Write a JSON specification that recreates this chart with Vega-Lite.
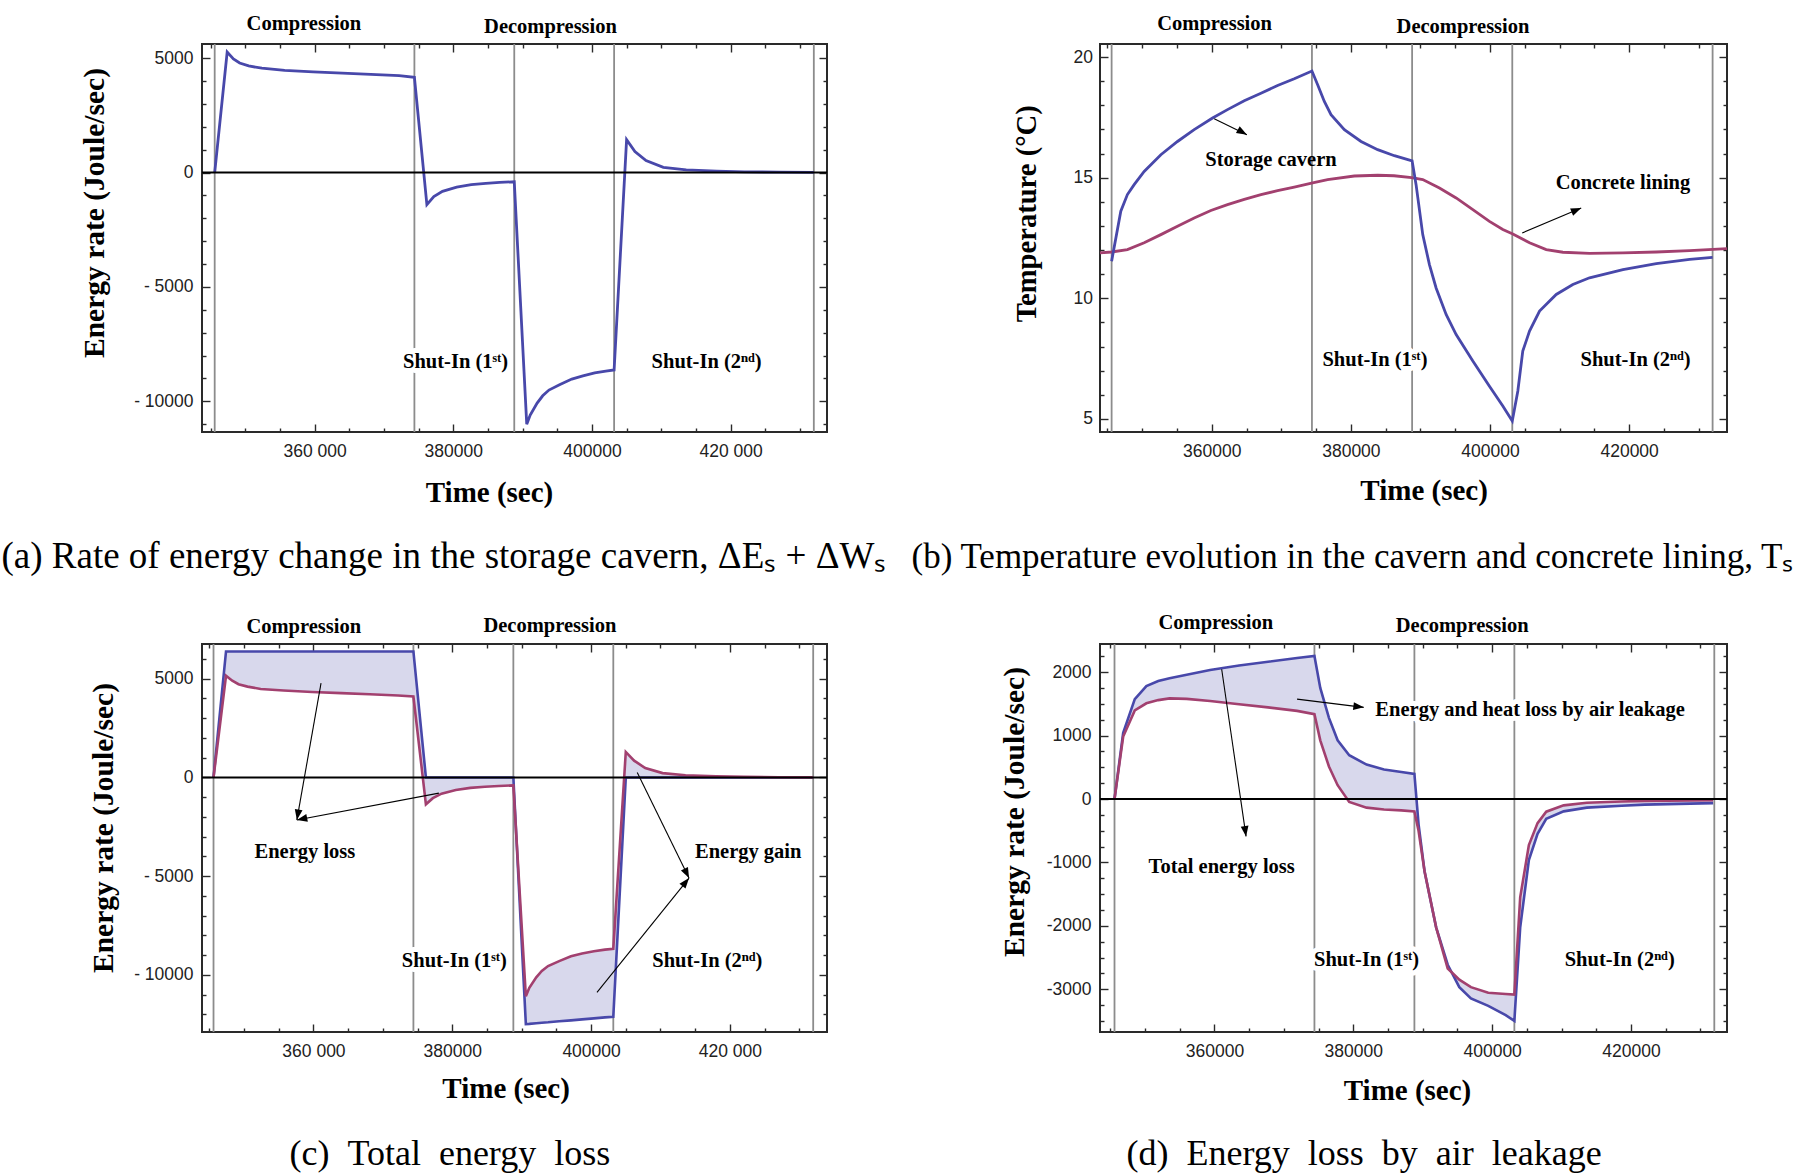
{
  "$schema": "https://vega.github.io/schema/vega-lite/v6.json",
  "background": "white",
  "autosize": {"type": "pad"},
  "padding": {"left": 0, "top": 12, "right": 0, "bottom": 0},
  "columns": 2,
  "spacing": {"row": 212, "column": 273},
  "bounds": "flush",
  "datasets": {
    "phases": [{"t": 345600}, {"t": 374400}, {"t": 388800}, {"t": 403200}, {"t": 432000}],
    "zero": [{"v": 0}],
    "a": [
      {"t": 345600, "e": 0}, {"t": 347400, "e": 5270}, {"t": 348300, "e": 4970}, {"t": 349200, "e": 4790},
      {"t": 350500, "e": 4660}, {"t": 352400, "e": 4560}, {"t": 355700, "e": 4470}, {"t": 359800, "e": 4400},
      {"t": 364000, "e": 4350}, {"t": 368100, "e": 4290}, {"t": 372200, "e": 4240}, {"t": 374400, "e": 4160},
      {"t": 376200, "e": -1400}, {"t": 377200, "e": -1050}, {"t": 378450, "e": -820}, {"t": 380500, "e": -640},
      {"t": 382600, "e": -530}, {"t": 384700, "e": -470}, {"t": 386700, "e": -430}, {"t": 388800, "e": -405},
      {"t": 390600, "e": -11000}, {"t": 391100, "e": -10600}, {"t": 392100, "e": -10080}, {"t": 392900, "e": -9760},
      {"t": 393800, "e": -9510}, {"t": 395400, "e": -9270}, {"t": 397100, "e": -9030}, {"t": 398700, "e": -8890},
      {"t": 400400, "e": -8760}, {"t": 402000, "e": -8680}, {"t": 403200, "e": -8630}, {"t": 405000, "e": 1440},
      {"t": 406200, "e": 920}, {"t": 407800, "e": 520}, {"t": 410300, "e": 230}, {"t": 413600, "e": 115},
      {"t": 418000, "e": 60}, {"t": 422000, "e": 32}, {"t": 427000, "e": 15}, {"t": 432000, "e": 5}
    ],
    "a_ph": [{"t": 358470, "v": 6510, "label": "Compression"}, {"t": 394030, "v": 6380, "label": "Decompression"}],
    "a_si": [{"t": 380340, "v": -8289, "label": "Shut-In (1ˢᵗ)"}, {"t": 416540, "v": -8289, "label": "Shut-In (2ⁿᵈ)"}],
    "b_cav": [
      {"t": 345600, "v": 11.54}, {"t": 346920, "v": 13.61}, {"t": 347870, "v": 14.3}, {"t": 348840, "v": 14.71},
      {"t": 350280, "v": 15.26}, {"t": 352680, "v": 15.95}, {"t": 355070, "v": 16.5}, {"t": 357470, "v": 16.99},
      {"t": 360110, "v": 17.47}, {"t": 362260, "v": 17.82}, {"t": 364670, "v": 18.19}, {"t": 367070, "v": 18.5},
      {"t": 369460, "v": 18.82}, {"t": 371860, "v": 19.1}, {"t": 374400, "v": 19.42}, {"t": 375220, "v": 18.85},
      {"t": 376180, "v": 18.16}, {"t": 377140, "v": 17.61}, {"t": 379060, "v": 16.99}, {"t": 381460, "v": 16.5},
      {"t": 383850, "v": 16.16}, {"t": 386250, "v": 15.91}, {"t": 388800, "v": 15.7}, {"t": 389370, "v": 14.71},
      {"t": 390330, "v": 12.64}, {"t": 391290, "v": 11.4}, {"t": 392250, "v": 10.43}, {"t": 393690, "v": 9.33},
      {"t": 395130, "v": 8.5}, {"t": 397530, "v": 7.4}, {"t": 399920, "v": 6.36}, {"t": 401840, "v": 5.54},
      {"t": 403200, "v": 4.92}, {"t": 404000, "v": 6.16}, {"t": 404710, "v": 7.81}, {"t": 405680, "v": 8.64},
      {"t": 407120, "v": 9.47}, {"t": 409520, "v": 10.16}, {"t": 411910, "v": 10.57}, {"t": 414310, "v": 10.85},
      {"t": 419110, "v": 11.19}, {"t": 423900, "v": 11.44}, {"t": 428700, "v": 11.61}, {"t": 432000, "v": 11.7}
    ],
    "b_lin": [
      {"t": 343930, "v": 11.88}, {"t": 345600, "v": 11.92}, {"t": 347870, "v": 12.02}, {"t": 350280, "v": 12.3},
      {"t": 352680, "v": 12.64}, {"t": 355070, "v": 12.99}, {"t": 357470, "v": 13.33}, {"t": 359870, "v": 13.64},
      {"t": 362260, "v": 13.88}, {"t": 364670, "v": 14.1}, {"t": 367070, "v": 14.3}, {"t": 369460, "v": 14.46},
      {"t": 371860, "v": 14.61}, {"t": 374500, "v": 14.78}, {"t": 376650, "v": 14.92}, {"t": 380490, "v": 15.07},
      {"t": 383850, "v": 15.1}, {"t": 386200, "v": 15.08}, {"t": 388740, "v": 15.0}, {"t": 390330, "v": 14.92},
      {"t": 392730, "v": 14.57}, {"t": 395130, "v": 14.16}, {"t": 397530, "v": 13.68}, {"t": 399920, "v": 13.19},
      {"t": 401840, "v": 12.85}, {"t": 403280, "v": 12.67}, {"t": 405680, "v": 12.3}, {"t": 408080, "v": 12.02},
      {"t": 410480, "v": 11.91}, {"t": 414310, "v": 11.86}, {"t": 419110, "v": 11.88}, {"t": 423900, "v": 11.92},
      {"t": 428700, "v": 11.98}, {"t": 434070, "v": 12.06}
    ],
    "b_ph": [{"t": 360410, "v": 21.38, "label": "Compression"}, {"t": 396120, "v": 21.26, "label": "Decompression"}],
    "b_si": [{"t": 383460, "v": 7.44, "label": "Shut-In (1ˢᵗ)"}, {"t": 420930, "v": 7.44, "label": "Shut-In (2ⁿᵈ)"}],
    "b_note": [{"t": 368510, "v": 15.75, "label": "Storage cavern"}, {"t": 419110, "v": 14.78, "label": "Concrete lining"}],
    "b_arrow": [
      {"id": "cav", "t0": 360350, "v0": 17.44, "t1": 365050, "v1": 16.78},
      {"id": "lin", "t0": 404630, "v0": 12.71, "t1": 413110, "v1": 13.74}
    ],
    "c": [
      {"t": 345600, "inp": 0, "e": 0}, {"t": 347400, "inp": 6380, "e": 5150}, {"t": 348300, "inp": 6380, "e": 4900},
      {"t": 349200, "inp": 6380, "e": 4720}, {"t": 350500, "inp": 6380, "e": 4600}, {"t": 352400, "inp": 6380, "e": 4480},
      {"t": 355700, "inp": 6380, "e": 4400}, {"t": 359800, "inp": 6380, "e": 4330}, {"t": 364000, "inp": 6380, "e": 4270},
      {"t": 368100, "inp": 6380, "e": 4210}, {"t": 372200, "inp": 6380, "e": 4150}, {"t": 374400, "inp": 6380, "e": 4100},
      {"t": 376200, "inp": 0, "e": -1360}, {"t": 377200, "inp": 0, "e": -1050}, {"t": 378450, "inp": 0, "e": -820},
      {"t": 380500, "inp": 0, "e": -640}, {"t": 382600, "inp": 0, "e": -530}, {"t": 384700, "inp": 0, "e": -470},
      {"t": 386700, "inp": 0, "e": -430}, {"t": 388800, "inp": 0, "e": -405}, {"t": 390600, "inp": -12490, "e": -11080},
      {"t": 391100, "inp": -12480, "e": -10650}, {"t": 392100, "inp": -12450, "e": -10120}, {"t": 392900, "inp": -12420, "e": -9800},
      {"t": 393800, "inp": -12400, "e": -9550}, {"t": 395400, "inp": -12350, "e": -9300}, {"t": 397100, "inp": -12300, "e": -9060},
      {"t": 398700, "inp": -12250, "e": -8920}, {"t": 400400, "inp": -12200, "e": -8800}, {"t": 402000, "inp": -12150, "e": -8720},
      {"t": 403200, "inp": -12115, "e": -8680}, {"t": 405000, "inp": 0, "e": 1290}, {"t": 406200, "inp": 0, "e": 850},
      {"t": 407800, "inp": 0, "e": 480}, {"t": 410300, "inp": 0, "e": 220}, {"t": 413600, "inp": 0, "e": 110},
      {"t": 418000, "inp": 0, "e": 55}, {"t": 422000, "inp": 0, "e": 30}, {"t": 427000, "inp": 0, "e": 12},
      {"t": 432000, "inp": 0, "e": 5}
    ],
    "c_ph": [{"t": 358600, "v": 7607, "label": "Compression"}, {"t": 394060, "v": 7662, "label": "Decompression"}],
    "c_si": [{"t": 380300, "v": -9295, "label": "Shut-In (1ˢᵗ)"}, {"t": 416750, "v": -9295, "label": "Shut-In (2ⁿᵈ)"}],
    "c_note": [{"t": 358770, "v": -3755, "label": "Energy loss"}, {"t": 422640, "v": -3755, "label": "Energy gain"}],
    "c_arrow": [
      {"id": "l1", "t0": 361090, "v0": 4774, "t1": 357610, "v1": -2151},
      {"id": "l2", "t0": 378070, "v0": -793, "t1": 357610, "v1": -2151},
      {"id": "g1", "t0": 406650, "v0": 245, "t1": 414110, "v1": -5095},
      {"id": "g2", "t0": 400850, "v0": -10888, "t1": 414110, "v1": -5095}
    ],
    "d": [
      {"t": 345600, "tot": 0, "ene": 0}, {"t": 346850, "tot": 1044, "ene": 985}, {"t": 348520, "tot": 1575, "ene": 1398},
      {"t": 350190, "tot": 1782, "ene": 1510}, {"t": 351900, "tot": 1860, "ene": 1560}, {"t": 353530, "tot": 1905, "ene": 1587},
      {"t": 356000, "tot": 1960, "ene": 1580}, {"t": 359370, "tot": 2035, "ene": 1545}, {"t": 363550, "tot": 2106, "ene": 1495},
      {"t": 367720, "tot": 2165, "ene": 1446}, {"t": 371900, "tot": 2224, "ene": 1390}, {"t": 374400, "tot": 2255, "ene": 1339},
      {"t": 375240, "tot": 1752, "ene": 926}, {"t": 376490, "tot": 1280, "ene": 513}, {"t": 377740, "tot": 926, "ene": 218},
      {"t": 379410, "tot": 690, "ene": -47}, {"t": 381910, "tot": 543, "ene": -136}, {"t": 384420, "tot": 466, "ene": -165},
      {"t": 386920, "tot": 425, "ene": -180}, {"t": 388800, "tot": 395, "ene": -195}, {"t": 389400, "tot": -400, "ene": -500},
      {"t": 390260, "tot": -1139, "ene": -1139}, {"t": 391930, "tot": -2024, "ene": -2024}, {"t": 393600, "tot": -2614, "ene": -2673},
      {"t": 395270, "tot": -2968, "ene": -2850}, {"t": 396940, "tot": -3145, "ene": -2968}, {"t": 399440, "tot": -3263, "ene": -3056},
      {"t": 401950, "tot": -3410, "ene": -3075}, {"t": 403200, "tot": -3500, "ene": -3086}, {"t": 404040, "tot": -2024, "ene": -1552},
      {"t": 405290, "tot": -962, "ene": -726}, {"t": 406540, "tot": -549, "ene": -380}, {"t": 407790, "tot": -313, "ene": -200},
      {"t": 410300, "tot": -195, "ene": -100}, {"t": 413640, "tot": -136, "ene": -60}, {"t": 418650, "tot": -106, "ene": -40},
      {"t": 421980, "tot": -89, "ene": -30}, {"t": 431830, "tot": -65, "ene": -18}
    ],
    "d_ph": [{"t": 360200, "v": 2780, "label": "Compression"}, {"t": 395690, "v": 2722, "label": "Decompression"}],
    "d_si": [{"t": 381910, "v": -2535, "label": "Shut-In (1ˢᵗ)"}, {"t": 418380, "v": -2535, "label": "Shut-In (2ⁿᵈ)"}],
    "d_note": [{"id": "tot", "t": 361040, "v": -1068, "label": "Total energy loss"}, {"id": "leak", "t": 405460, "v": 1410, "label": "Energy and heat loss by air leakage"}],
    "d_arrow": [
      {"id": "tot", "t0": 361040, "v0": 2047, "t1": 364550, "v1": -590},
      {"id": "leak", "t0": 371900, "v0": 1575, "t1": 381500, "v1": 1446}
    ]
  },
  "concat": [
    {
      "width": 625,
      "height": 388,
      "resolve": {"axis": {"x": "independent", "y": "independent"}},
      "layer": [
        {"data": {"name": "phases"}, "mark": {"type": "rule", "color": "#8c8c8c", "strokeWidth": 1.8},
         "encoding": {"x": {"field": "t", "type": "quantitative", "axis": null}}},
        {"data": {"name": "a_si"}, "mark": {"type": "text", "color": "white", "stroke": "white", "strokeWidth": 10, "strokeJoin": "round"},
         "encoding": {"x": {"field": "t", "type": "quantitative", "axis": null}, "y": {"field": "v", "type": "quantitative", "axis": null}, "text": {"field": "label"}}},
        {"data": {"name": "a"}, "mark": {"type": "line", "color": "#4848aa", "strokeWidth": 2.8},
         "encoding": {"x": {"field": "t", "type": "quantitative", "axis": null}, "y": {"field": "e", "type": "quantitative", "axis": null}}},
        {"data": {"name": "zero"}, "mark": {"type": "rule", "color": "black", "strokeWidth": 2},
         "encoding": {"y": {"field": "v", "type": "quantitative", "axis": null}}},
        {"data": {"name": "a"}, "mark": {"type": "point", "opacity": 0},
         "encoding": {
           "x": {"field": "t", "type": "quantitative", "scale": {"domain": [343770, 433900], "nice": false, "zero": false},
                 "axis": {"orient": "bottom", "values": [360000, 380000, 400000, 420000], "tickSize": -8, "labelPadding": 18, "labelBaseline": "top",
                          "labelExpr": "datum.value == 360000 ? '360 000' : datum.value == 420000 ? '420 000' : '' + datum.value",
                          "title": "Time (sec)", "titleFontSize": 29, "titleX": 287, "titleY": 69}},
           "y": {"field": "e", "type": "quantitative", "scale": {"domain": [-11343, 5619], "nice": false, "zero": false},
                 "axis": {"orient": "left", "values": [-10000, -5000, 0, 5000], "tickSize": -8, "labelPadding": 17,
                          "labelExpr": "datum.value < 0 ? '- ' + (-datum.value) : '' + datum.value",
                          "title": "Energy rate (Joule/sec)", "titleFontSize": 29.5, "titleAngle": -90, "titleX": -98.6, "titleY": 168.5}}}},
        {"data": {"name": "a"}, "mark": {"type": "point", "opacity": 0},
         "encoding": {
           "x": {"field": "t", "type": "quantitative",
                 "axis": {"orient": "bottom", "values": [345000, 350000, 355000, 365000, 370000, 375000, 385000, 390000, 395000, 405000, 410000, 415000, 425000, 430000], "tickSize": -4, "labels": false,
                          "title": "(a) Rate of energy change in the storage cavern, ΔEₛ + ΔWₛ", "titleFontSize": 37, "titleFontWeight": "normal", "titleAlign": "left", "titleX": -201, "titleY": 135.5}},
           "y": {"field": "e", "type": "quantitative",
                 "axis": {"orient": "left", "values": [-11000, -9000, -8000, -7000, -6000, -4000, -3000, -2000, -1000, 1000, 2000, 3000, 4000], "tickSize": -4, "labels": false, "title": null}}}},
        {"data": {"name": "a"}, "mark": {"type": "point", "opacity": 0},
         "encoding": {
           "x": {"field": "t", "type": "quantitative", "axis": {"orient": "top", "values": [360000, 380000, 400000, 420000], "tickSize": -8, "labels": false, "title": null}},
           "y": {"field": "e", "type": "quantitative", "axis": {"orient": "right", "values": [-10000, -5000, 0, 5000], "tickSize": -8, "labels": false, "title": null}}}},
        {"data": {"name": "a"}, "mark": {"type": "point", "opacity": 0},
         "encoding": {
           "x": {"field": "t", "type": "quantitative", "axis": {"orient": "top", "values": [345000, 350000, 355000, 365000, 370000, 375000, 385000, 390000, 395000, 405000, 410000, 415000, 425000, 430000], "tickSize": -4, "labels": false, "title": null}},
           "y": {"field": "e", "type": "quantitative", "axis": {"orient": "right", "values": [-11000, -9000, -8000, -7000, -6000, -4000, -3000, -2000, -1000, 1000, 2000, 3000, 4000], "tickSize": -4, "labels": false, "title": null}}}},
        {"data": {"name": "a_ph"}, "mark": {"type": "text"},
         "encoding": {"x": {"field": "t", "type": "quantitative", "axis": null}, "y": {"field": "v", "type": "quantitative", "axis": null}, "text": {"field": "label"}}},
        {"data": {"name": "a_si"}, "mark": {"type": "text"},
         "encoding": {"x": {"field": "t", "type": "quantitative", "axis": null}, "y": {"field": "v", "type": "quantitative", "axis": null}, "text": {"field": "label"}}}
      ]
    },
    {
      "width": 627,
      "height": 388,
      "resolve": {"axis": {"x": "independent", "y": "independent"}},
      "layer": [
        {"data": {"name": "phases"}, "mark": {"type": "rule", "color": "#8c8c8c", "strokeWidth": 1.8},
         "encoding": {"x": {"field": "t", "type": "quantitative", "axis": null}}},
        {"data": {"name": "b_si"}, "mark": {"type": "text", "color": "white", "stroke": "white", "strokeWidth": 10, "strokeJoin": "round"},
         "encoding": {"x": {"field": "t", "type": "quantitative", "axis": null}, "y": {"field": "v", "type": "quantitative", "axis": null}, "text": {"field": "label"}}},
        {"data": {"name": "b_lin"}, "mark": {"type": "line", "color": "#a2406f", "strokeWidth": 2.8},
         "encoding": {"x": {"field": "t", "type": "quantitative", "axis": null}, "y": {"field": "v", "type": "quantitative", "axis": null}}},
        {"data": {"name": "b_cav"}, "mark": {"type": "line", "color": "#4848aa", "strokeWidth": 2.8},
         "encoding": {"x": {"field": "t", "type": "quantitative", "axis": null}, "y": {"field": "v", "type": "quantitative", "axis": null}}},
        {"data": {"name": "b_cav"}, "mark": {"type": "point", "opacity": 0},
         "encoding": {
           "x": {"field": "t", "type": "quantitative", "scale": {"domain": [343930, 434070], "nice": false, "zero": false},
                 "axis": {"orient": "bottom", "values": [360000, 380000, 400000, 420000], "tickSize": -8, "labelPadding": 18, "labelBaseline": "top",
                          "labelExpr": "'' + datum.value",
                          "title": "Time (sec)", "titleFontSize": 29, "titleX": 323.6, "titleY": 67}},
           "y": {"field": "v", "type": "quantitative", "scale": {"domain": [4.46, 20.54], "nice": false, "zero": false},
                 "axis": {"orient": "left", "values": [5, 10, 15, 20], "tickSize": -8, "labelPadding": 15.5,
                          "labelExpr": "'' + datum.value",
                          "title": "Temperature (°C)", "titleFontSize": 28.6, "titleAngle": -90, "titleX": -64.4, "titleY": 169.3}}}},
        {"data": {"name": "b_cav"}, "mark": {"type": "point", "opacity": 0},
         "encoding": {
           "x": {"field": "t", "type": "quantitative",
                 "axis": {"orient": "bottom", "values": [345000, 350000, 355000, 365000, 370000, 375000, 385000, 390000, 395000, 405000, 410000, 415000, 425000, 430000], "tickSize": -4, "labels": false,
                          "title": "(b) Temperature evolution in the cavern and concrete lining, Tₛ", "titleFontSize": 35, "titleFontWeight": "normal", "titleAlign": "left", "titleX": -189, "titleY": 135.5}},
           "y": {"field": "v", "type": "quantitative",
                 "axis": {"orient": "left", "values": [6, 7, 8, 9, 11, 12, 13, 14, 16, 17, 18, 19], "tickSize": -4, "labels": false, "title": null}}}},
        {"data": {"name": "b_cav"}, "mark": {"type": "point", "opacity": 0},
         "encoding": {
           "x": {"field": "t", "type": "quantitative", "axis": {"orient": "top", "values": [360000, 380000, 400000, 420000], "tickSize": -8, "labels": false, "title": null}},
           "y": {"field": "v", "type": "quantitative", "axis": {"orient": "right", "values": [5, 10, 15, 20], "tickSize": -8, "labels": false, "title": null}}}},
        {"data": {"name": "b_cav"}, "mark": {"type": "point", "opacity": 0},
         "encoding": {
           "x": {"field": "t", "type": "quantitative", "axis": {"orient": "top", "values": [345000, 350000, 355000, 365000, 370000, 375000, 385000, 390000, 395000, 405000, 410000, 415000, 425000, 430000], "tickSize": -4, "labels": false, "title": null}},
           "y": {"field": "v", "type": "quantitative", "axis": {"orient": "right", "values": [6, 7, 8, 9, 11, 12, 13, 14, 16, 17, 18, 19], "tickSize": -4, "labels": false, "title": null}}}},
        {"data": {"name": "b_ph"}, "mark": {"type": "text"},
         "encoding": {"x": {"field": "t", "type": "quantitative", "axis": null}, "y": {"field": "v", "type": "quantitative", "axis": null}, "text": {"field": "label"}}},
        {"data": {"name": "b_si"}, "mark": {"type": "text"},
         "encoding": {"x": {"field": "t", "type": "quantitative", "axis": null}, "y": {"field": "v", "type": "quantitative", "axis": null}, "text": {"field": "label"}}},
        {"data": {"name": "b_note"}, "mark": {"type": "text"},
         "encoding": {"x": {"field": "t", "type": "quantitative", "axis": null}, "y": {"field": "v", "type": "quantitative", "axis": null}, "text": {"field": "label"}}},
        {"data": {"name": "b_arrow"}, "mark": {"type": "rule", "color": "black", "strokeWidth": 1.1},
         "encoding": {"x": {"field": "t0", "type": "quantitative", "axis": null}, "y": {"field": "v0", "type": "quantitative", "axis": null},
                      "x2": {"field": "t1"}, "y2": {"field": "v1"}}},
        {"data": {"name": "b_arrow"}, "transform": [{"filter": "datum.id == 'cav'"}],
         "mark": {"type": "point", "shape": "M0,0L-1.2,-0.45L-1.2,0.45Z", "filled": true, "color": "black", "opacity": 1, "size": 300, "angle": 29},
         "encoding": {"x": {"field": "t1", "type": "quantitative", "axis": null}, "y": {"field": "v1", "type": "quantitative", "axis": null}}},
        {"data": {"name": "b_arrow"}, "transform": [{"filter": "datum.id == 'lin'"}],
         "mark": {"type": "point", "shape": "M0,0L-1.2,-0.45L-1.2,0.45Z", "filled": true, "color": "black", "opacity": 1, "size": 300, "angle": 337.5},
         "encoding": {"x": {"field": "t1", "type": "quantitative", "axis": null}, "y": {"field": "v1", "type": "quantitative", "axis": null}}}
      ]
    },
    {
      "width": 625,
      "height": 388,
      "resolve": {"axis": {"x": "independent", "y": "independent"}},
      "layer": [
        {"data": {"name": "phases"}, "mark": {"type": "rule", "color": "#8c8c8c", "strokeWidth": 1.8},
         "encoding": {"x": {"field": "t", "type": "quantitative", "axis": null}}},
        {"data": {"name": "c_si"}, "mark": {"type": "text", "color": "white", "stroke": "white", "strokeWidth": 10, "strokeJoin": "round"},
         "encoding": {"x": {"field": "t", "type": "quantitative", "axis": null}, "y": {"field": "v", "type": "quantitative", "axis": null}, "text": {"field": "label"}}},
        {"data": {"name": "c"}, "mark": {"type": "area", "color": "#d8d8ec", "opacity": 1},
         "encoding": {"x": {"field": "t", "type": "quantitative", "axis": null}, "y": {"field": "inp", "type": "quantitative", "axis": null}, "y2": {"field": "e"}}},
        {"data": {"name": "c"}, "mark": {"type": "line", "color": "#4848aa", "strokeWidth": 2.6},
         "encoding": {"x": {"field": "t", "type": "quantitative", "axis": null}, "y": {"field": "inp", "type": "quantitative", "axis": null}}},
        {"data": {"name": "c"}, "mark": {"type": "line", "color": "#a2406f", "strokeWidth": 2.6},
         "encoding": {"x": {"field": "t", "type": "quantitative", "axis": null}, "y": {"field": "e", "type": "quantitative", "axis": null}}},
        {"data": {"name": "zero"}, "mark": {"type": "rule", "color": "black", "strokeWidth": 2},
         "encoding": {"y": {"field": "v", "type": "quantitative", "axis": null}}},
        {"data": {"name": "c"}, "mark": {"type": "point", "opacity": 0},
         "encoding": {
           "x": {"field": "t", "type": "quantitative", "scale": {"domain": [343940, 433990], "nice": false, "zero": false},
                 "axis": {"orient": "bottom", "values": [360000, 380000, 400000, 420000], "tickSize": -8, "labelPadding": 18, "labelBaseline": "top",
                          "labelExpr": "datum.value == 360000 ? '360 000' : datum.value == 420000 ? '420 000' : '' + datum.value",
                          "title": "Time (sec)", "titleFontSize": 29, "titleX": 303.6, "titleY": 65}},
           "y": {"field": "e", "type": "quantitative", "scale": {"domain": [-12891, 6758], "nice": false, "zero": false},
                 "axis": {"orient": "left", "values": [-10000, -5000, 0, 5000], "tickSize": -8, "labelPadding": 17,
                          "labelExpr": "datum.value < 0 ? '- ' + (-datum.value) : '' + datum.value",
                          "title": "Energy rate (Joule/sec)", "titleFontSize": 29.5, "titleAngle": -90, "titleX": -89.8, "titleY": 183.5}}}},
        {"data": {"name": "c"}, "mark": {"type": "point", "opacity": 0},
         "encoding": {
           "x": {"field": "t", "type": "quantitative",
                 "axis": {"orient": "bottom", "values": [345000, 350000, 355000, 365000, 370000, 375000, 385000, 390000, 395000, 405000, 410000, 415000, 425000, 430000], "tickSize": -4, "labels": false,
                          "title": "(c)\u2002Total\u2002energy\u2002loss", "titleFontSize": 36, "titleFontWeight": "normal", "titleAlign": "left", "titleX": 87, "titleY": 132.5}},
           "y": {"field": "e", "type": "quantitative",
                 "axis": {"orient": "left", "values": [-12000, -11000, -9000, -8000, -7000, -6000, -4000, -3000, -2000, -1000, 1000, 2000, 3000, 4000, 6000], "tickSize": -4, "labels": false, "title": null}}}},
        {"data": {"name": "c"}, "mark": {"type": "point", "opacity": 0},
         "encoding": {
           "x": {"field": "t", "type": "quantitative", "axis": {"orient": "top", "values": [360000, 380000, 400000, 420000], "tickSize": -8, "labels": false, "title": null}},
           "y": {"field": "e", "type": "quantitative", "axis": {"orient": "right", "values": [-10000, -5000, 0, 5000], "tickSize": -8, "labels": false, "title": null}}}},
        {"data": {"name": "c"}, "mark": {"type": "point", "opacity": 0},
         "encoding": {
           "x": {"field": "t", "type": "quantitative", "axis": {"orient": "top", "values": [345000, 350000, 355000, 365000, 370000, 375000, 385000, 390000, 395000, 405000, 410000, 415000, 425000, 430000], "tickSize": -4, "labels": false, "title": null}},
           "y": {"field": "e", "type": "quantitative", "axis": {"orient": "right", "values": [-12000, -11000, -9000, -8000, -7000, -6000, -4000, -3000, -2000, -1000, 1000, 2000, 3000, 4000, 6000], "tickSize": -4, "labels": false, "title": null}}}},
        {"data": {"name": "c_ph"}, "mark": {"type": "text"},
         "encoding": {"x": {"field": "t", "type": "quantitative", "axis": null}, "y": {"field": "v", "type": "quantitative", "axis": null}, "text": {"field": "label"}}},
        {"data": {"name": "c_si"}, "mark": {"type": "text"},
         "encoding": {"x": {"field": "t", "type": "quantitative", "axis": null}, "y": {"field": "v", "type": "quantitative", "axis": null}, "text": {"field": "label"}}},
        {"data": {"name": "c_note"}, "mark": {"type": "text"},
         "encoding": {"x": {"field": "t", "type": "quantitative", "axis": null}, "y": {"field": "v", "type": "quantitative", "axis": null}, "text": {"field": "label"}}},
        {"data": {"name": "c_arrow"}, "mark": {"type": "rule", "color": "black", "strokeWidth": 1.1},
         "encoding": {"x": {"field": "t0", "type": "quantitative", "axis": null}, "y": {"field": "v0", "type": "quantitative", "axis": null},
                      "x2": {"field": "t1"}, "y2": {"field": "v1"}}},
        {"data": {"name": "c_arrow"}, "transform": [{"filter": "datum.id == 'l1'"}],
         "mark": {"type": "point", "shape": "M0,0L-1.2,-0.45L-1.2,0.45Z", "filled": true, "color": "black", "opacity": 1, "size": 300, "angle": 100},
         "encoding": {"x": {"field": "t1", "type": "quantitative", "axis": null}, "y": {"field": "v1", "type": "quantitative", "axis": null}}},
        {"data": {"name": "c_arrow"}, "transform": [{"filter": "datum.id == 'l2'"}],
         "mark": {"type": "point", "shape": "M0,0L-1.2,-0.45L-1.2,0.45Z", "filled": true, "color": "black", "opacity": 1, "size": 300, "angle": 169},
         "encoding": {"x": {"field": "t1", "type": "quantitative", "axis": null}, "y": {"field": "v1", "type": "quantitative", "axis": null}}},
        {"data": {"name": "c_arrow"}, "transform": [{"filter": "datum.id == 'g1'"}],
         "mark": {"type": "point", "shape": "M0,0L-1.2,-0.45L-1.2,0.45Z", "filled": true, "color": "black", "opacity": 1, "size": 300, "angle": 64},
         "encoding": {"x": {"field": "t1", "type": "quantitative", "axis": null}, "y": {"field": "v1", "type": "quantitative", "axis": null}}},
        {"data": {"name": "c_arrow"}, "transform": [{"filter": "datum.id == 'g2'"}],
         "mark": {"type": "point", "shape": "M0,0L-1.2,-0.45L-1.2,0.45Z", "filled": true, "color": "black", "opacity": 1, "size": 300, "angle": 309},
         "encoding": {"x": {"field": "t1", "type": "quantitative", "axis": null}, "y": {"field": "v1", "type": "quantitative", "axis": null}}}
      ]
    },
    {
      "width": 627,
      "height": 388,
      "resolve": {"axis": {"x": "independent", "y": "independent"}},
      "layer": [
        {"data": {"name": "phases"}, "mark": {"type": "rule", "color": "#8c8c8c", "strokeWidth": 1.8},
         "encoding": {"x": {"field": "t", "type": "quantitative", "axis": null}}},
        {"data": {"name": "d_si"}, "mark": {"type": "text", "color": "white", "stroke": "white", "strokeWidth": 10, "strokeJoin": "round"},
         "encoding": {"x": {"field": "t", "type": "quantitative", "axis": null}, "y": {"field": "v", "type": "quantitative", "axis": null}, "text": {"field": "label"}}},
        {"data": {"name": "d_note"}, "transform": [{"filter": "datum.id == 'leak'"}],
         "mark": {"type": "text", "color": "white", "stroke": "white", "strokeWidth": 10, "strokeJoin": "round"},
         "encoding": {"x": {"field": "t", "type": "quantitative", "axis": null}, "y": {"field": "v", "type": "quantitative", "axis": null}, "text": {"field": "label"}}},
        {"data": {"name": "d"}, "mark": {"type": "area", "color": "#d8d8ec", "opacity": 1},
         "encoding": {"x": {"field": "t", "type": "quantitative", "axis": null}, "y": {"field": "tot", "type": "quantitative", "axis": null}, "y2": {"field": "ene"}}},
        {"data": {"name": "d"}, "mark": {"type": "line", "color": "#4848aa", "strokeWidth": 2.6},
         "encoding": {"x": {"field": "t", "type": "quantitative", "axis": null}, "y": {"field": "tot", "type": "quantitative", "axis": null}}},
        {"data": {"name": "d"}, "mark": {"type": "line", "color": "#a2406f", "strokeWidth": 2.6},
         "encoding": {"x": {"field": "t", "type": "quantitative", "axis": null}, "y": {"field": "ene", "type": "quantitative", "axis": null}}},
        {"data": {"name": "zero"}, "mark": {"type": "rule", "color": "black", "strokeWidth": 2},
         "encoding": {"y": {"field": "v", "type": "quantitative", "axis": null}}},
        {"data": {"name": "d"}, "mark": {"type": "point", "opacity": 0},
         "encoding": {
           "x": {"field": "t", "type": "quantitative", "scale": {"domain": [343510, 433830], "nice": false, "zero": false},
                 "axis": {"orient": "bottom", "values": [360000, 380000, 400000, 420000], "tickSize": -8, "labelPadding": 18, "labelBaseline": "top",
                          "labelExpr": "'' + datum.value",
                          "title": "Time (sec)", "titleFontSize": 29, "titleX": 307, "titleY": 67}},
           "y": {"field": "tot", "type": "quantitative", "scale": {"domain": [-3675, 2445], "nice": false, "zero": false},
                 "axis": {"orient": "left", "values": [-3000, -2000, -1000, 0, 1000, 2000], "tickSize": -8, "labelPadding": 17,
                          "labelExpr": "datum.value < 0 ? '-' + (-datum.value) : '' + datum.value",
                          "title": "Energy rate (Joule/sec)", "titleFontSize": 29.5, "titleAngle": -90, "titleX": -76.8, "titleY": 167.5}}}},
        {"data": {"name": "d"}, "mark": {"type": "point", "opacity": 0},
         "encoding": {
           "x": {"field": "t", "type": "quantitative",
                 "axis": {"orient": "bottom", "values": [345000, 350000, 355000, 365000, 370000, 375000, 385000, 390000, 395000, 405000, 410000, 415000, 425000, 430000], "tickSize": -4, "labels": false,
                          "title": "(d)\u2002Energy\u2002loss\u2002by\u2002air\u2002leakage", "titleFontSize": 36, "titleFontWeight": "normal", "titleAlign": "left", "titleX": 26, "titleY": 132.5}},
           "y": {"field": "tot", "type": "quantitative",
                 "axis": {"orient": "left", "values": [-3500, -3250, -2750, -2500, -2250, -1750, -1500, -1250, -750, -500, -250, 250, 500, 750, 1250, 1500, 1750, 2250], "tickSize": -4, "labels": false, "title": null}}}},
        {"data": {"name": "d"}, "mark": {"type": "point", "opacity": 0},
         "encoding": {
           "x": {"field": "t", "type": "quantitative", "axis": {"orient": "top", "values": [360000, 380000, 400000, 420000], "tickSize": -8, "labels": false, "title": null}},
           "y": {"field": "tot", "type": "quantitative", "axis": {"orient": "right", "values": [-3000, -2000, -1000, 0, 1000, 2000], "tickSize": -8, "labels": false, "title": null}}}},
        {"data": {"name": "d"}, "mark": {"type": "point", "opacity": 0},
         "encoding": {
           "x": {"field": "t", "type": "quantitative", "axis": {"orient": "top", "values": [345000, 350000, 355000, 365000, 370000, 375000, 385000, 390000, 395000, 405000, 410000, 415000, 425000, 430000], "tickSize": -4, "labels": false, "title": null}},
           "y": {"field": "tot", "type": "quantitative", "axis": {"orient": "right", "values": [-3500, -3250, -2750, -2500, -2250, -1750, -1500, -1250, -750, -500, -250, 250, 500, 750, 1250, 1500, 1750, 2250], "tickSize": -4, "labels": false, "title": null}}}},
        {"data": {"name": "d_ph"}, "mark": {"type": "text"},
         "encoding": {"x": {"field": "t", "type": "quantitative", "axis": null}, "y": {"field": "v", "type": "quantitative", "axis": null}, "text": {"field": "label"}}},
        {"data": {"name": "d_si"}, "mark": {"type": "text"},
         "encoding": {"x": {"field": "t", "type": "quantitative", "axis": null}, "y": {"field": "v", "type": "quantitative", "axis": null}, "text": {"field": "label"}}},
        {"data": {"name": "d_note"}, "mark": {"type": "text"},
         "encoding": {"x": {"field": "t", "type": "quantitative", "axis": null}, "y": {"field": "v", "type": "quantitative", "axis": null}, "text": {"field": "label"}}},
        {"data": {"name": "d_arrow"}, "mark": {"type": "rule", "color": "black", "strokeWidth": 1.1},
         "encoding": {"x": {"field": "t0", "type": "quantitative", "axis": null}, "y": {"field": "v0", "type": "quantitative", "axis": null},
                      "x2": {"field": "t1"}, "y2": {"field": "v1"}}},
        {"data": {"name": "d_arrow"}, "transform": [{"filter": "datum.id == 'tot'"}],
         "mark": {"type": "point", "shape": "M0,0L-1.2,-0.45L-1.2,0.45Z", "filled": true, "color": "black", "opacity": 1, "size": 300, "angle": 82},
         "encoding": {"x": {"field": "t1", "type": "quantitative", "axis": null}, "y": {"field": "v1", "type": "quantitative", "axis": null}}},
        {"data": {"name": "d_arrow"}, "transform": [{"filter": "datum.id == 'leak'"}],
         "mark": {"type": "point", "shape": "M0,0L-1.2,-0.45L-1.2,0.45Z", "filled": true, "color": "black", "opacity": 1, "size": 300, "angle": 7},
         "encoding": {"x": {"field": "t1", "type": "quantitative", "axis": null}, "y": {"field": "v1", "type": "quantitative", "axis": null}}}
      ]
    }
  ],
  "config": {
    "view": {"stroke": "#2a2a2a", "strokeWidth": 2},
    "axis": {
      "domain": false, "grid": false, "tickColor": "#2a2a2a", "tickWidth": 1.4,
      "labelFont": "Liberation Sans", "labelFontSize": 17.5, "labelColor": "#222222", "labelFlush": false, "labelOverlap": false,
      "titleFont": "Liberation Serif", "titleFontWeight": "bold", "titleColor": "#000000", "titleBaseline": "alphabetic", "titleAlign": "center"
    },
    "text": {"font": "Liberation Serif", "fontWeight": "bold", "fontSize": 20.5, "align": "center", "baseline": "middle", "color": "#000000"}
  }
}
